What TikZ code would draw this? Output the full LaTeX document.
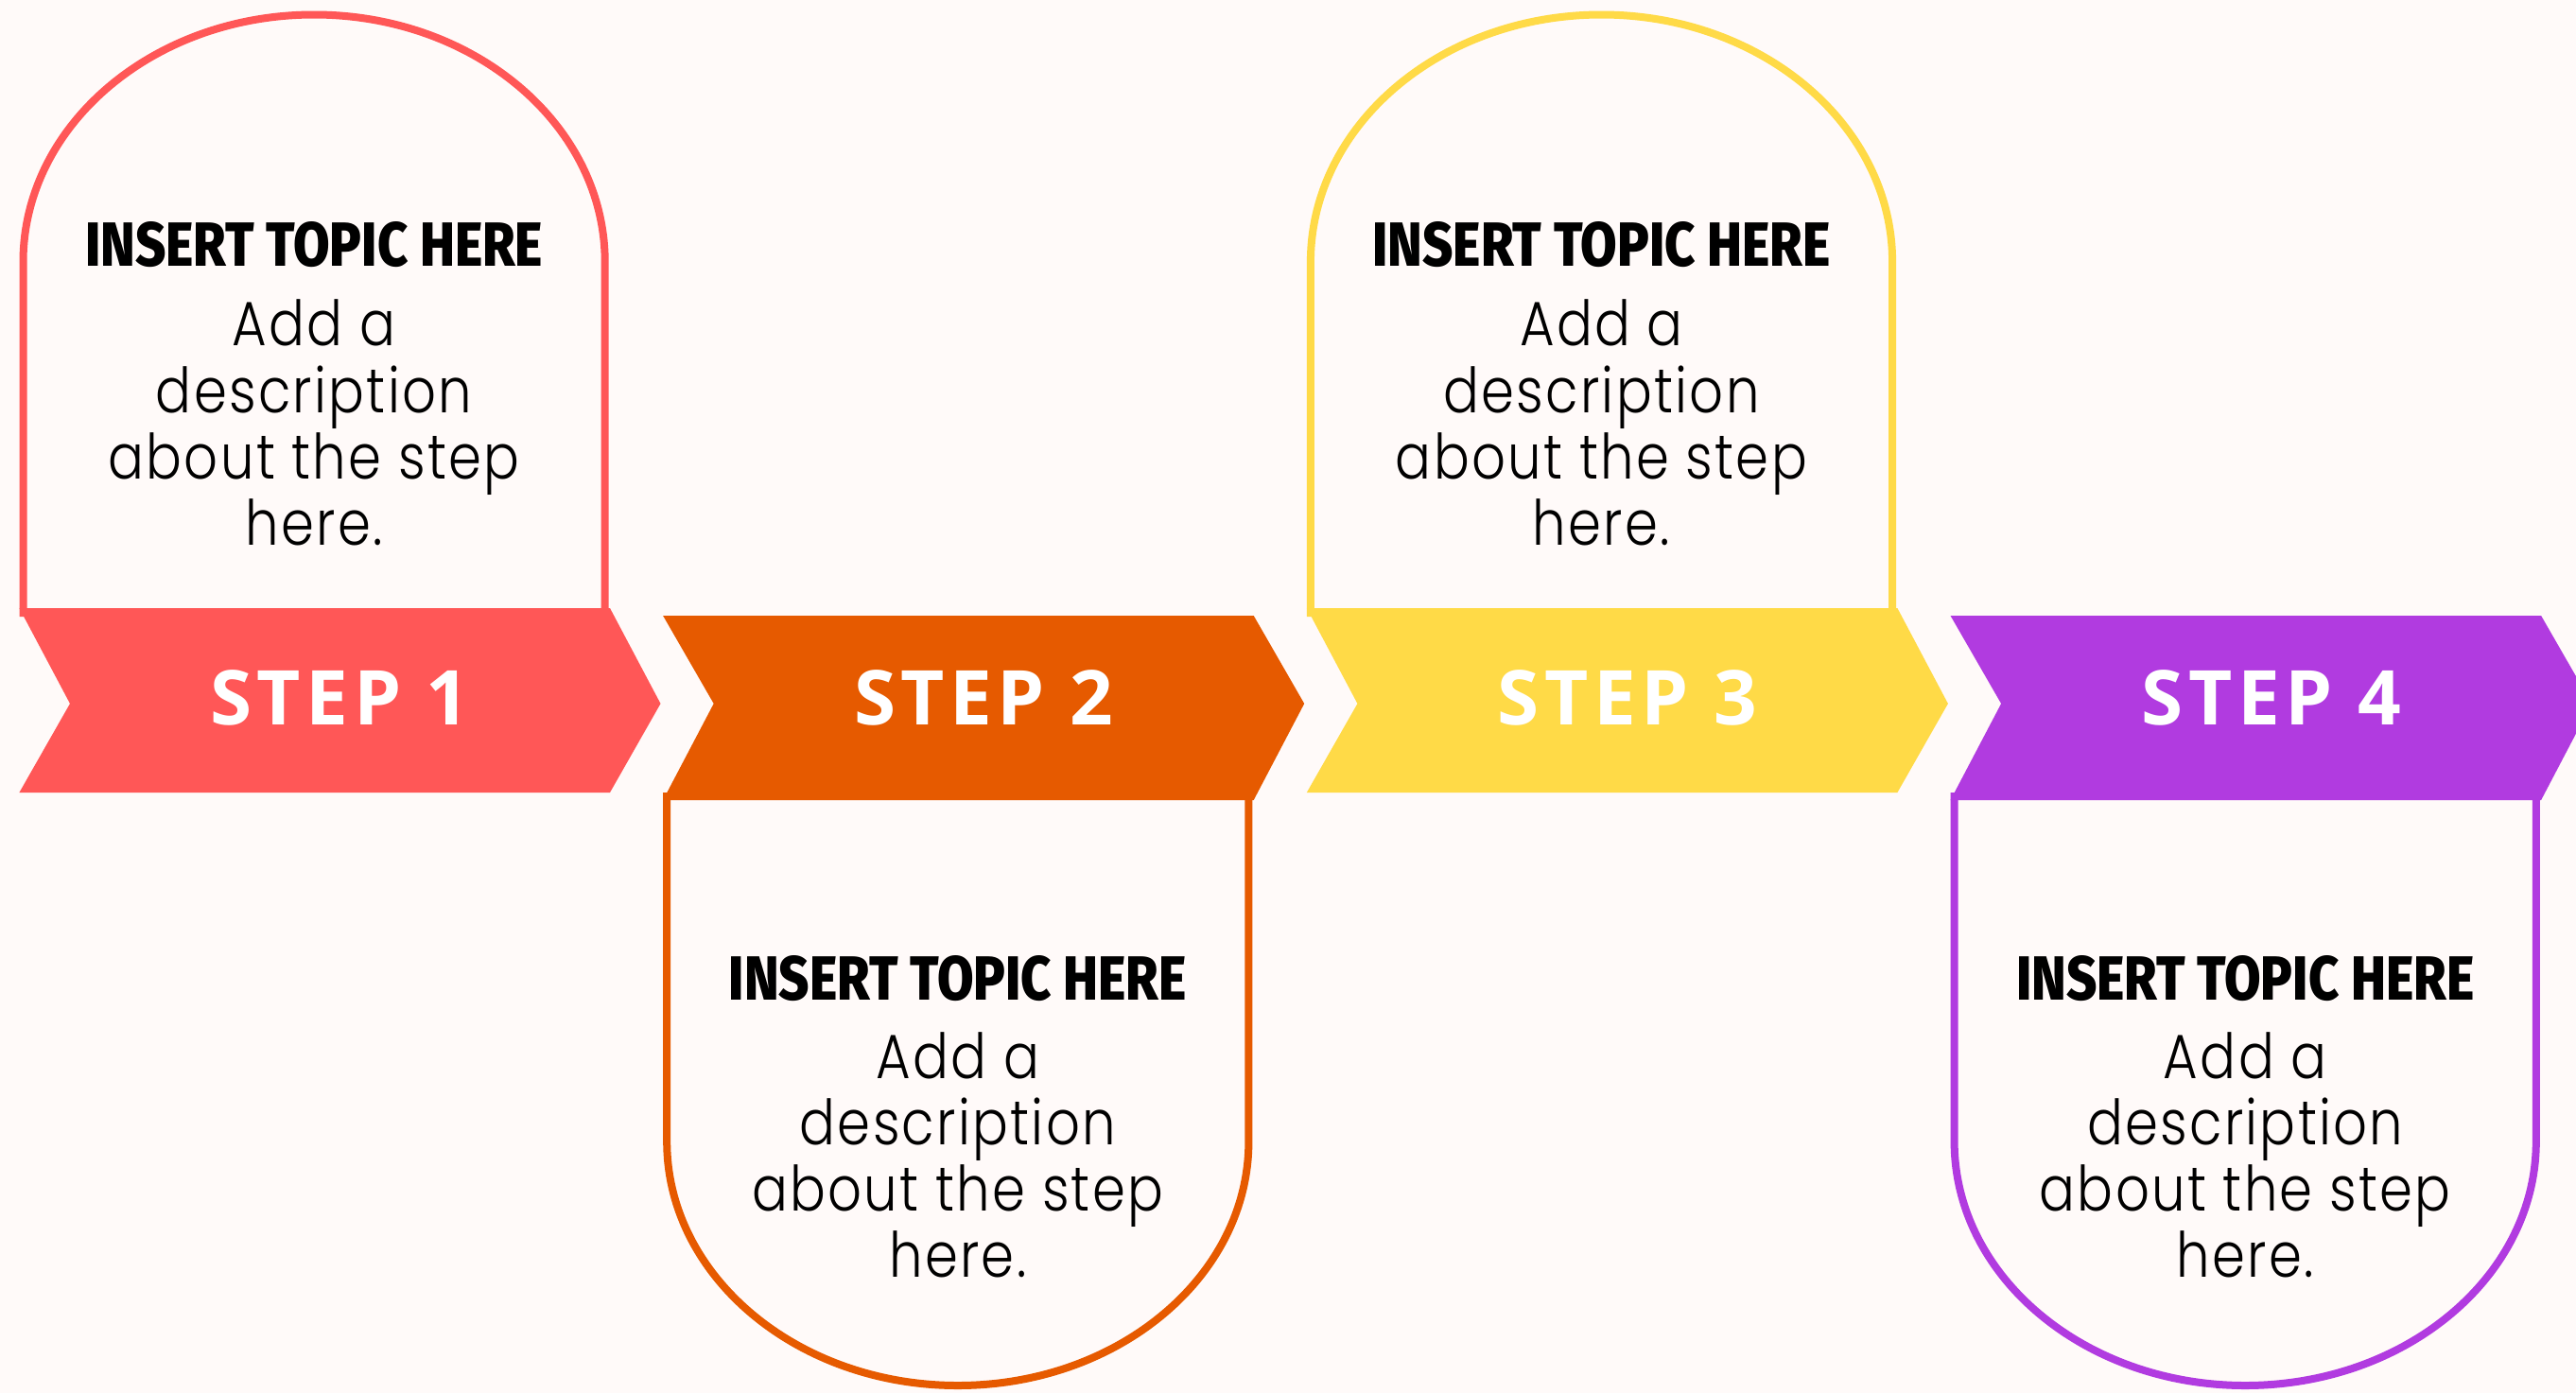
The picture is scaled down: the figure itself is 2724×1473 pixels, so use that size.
\documentclass[tikz,border=0pt]{standalone}
\usepackage{fontspec}
\usepackage{graphicx}
\setmainfont{Poppins}
\IfFontExistsTF{Poppins Light}{\newfontfamily\descfont{Poppins Light}[LetterSpace=3.5,FakeStretch=0.85]}{\newfontfamily\descfont{Poppins}[LetterSpace=3.5,FakeStretch=0.85]}
\IfFontExistsTF{Fira Sans ExtraBold}{\newfontfamily\headfont{Fira Sans ExtraBold}}{\newfontfamily\headfont{Fira Sans Bold}}
\newfontfamily\stepfont{Open Sans}[LetterSpace=7]
\definecolor{bg}{HTML}{FFFAF9}
\definecolor{cRed}{HTML}{FF5757}
\definecolor{cOrange}{HTML}{E65A00}
\definecolor{cYellow}{HTML}{FFDA47}
\definecolor{cPurple}{HTML}{B13BE0}
\tikzset{
  boxline/.style={line width=8pt},
  headtext/.style={anchor=base, inner sep=0pt, text=black},
  desctext/.style={anchor=base, inner sep=0pt, text=black, font=\descfont\fontsize{66}{70}\selectfont},
  steptext/.style={anchor=base, inner sep=0pt, text=white, font=\stepfont\bfseries\fontsize{80}{90}\selectfont},
}
\newcommand\desclines{\begin{tabular}[t]{@{}c@{}}Add a\\description\\about the step\\here.\end{tabular}}
\newcommand\headline{\resizebox{484pt}{47pt}{\headfont INSERT TOPIC HERE}}
\newcommand\topstep[3]{%
\begin{scope}[xshift=#1pt]
\draw[boxline, draw=#2] (24.5,652) -- (24.5,277) .. controls (24.5,132.6) and (162.2,15.5) .. (332.1,15.5) .. controls (502,15.5) and (639.7,132.6) .. (639.7,277) -- (639.7,652);
\fill[#2] (20.4,643) -- (645,643) -- (698.5,744) -- (645,838) -- (20.4,838) -- (74,744) -- cycle;
\node[steptext] (step#3) at (359.5,766.7) {STEP #3};
\node[headtext] (topic#3) at (332.1,281.7) {\headline};
\node[desctext] (desc#3) at (332.1,365.7) {\desclines};
\end{scope}}
\newcommand\botstep[3]{%
\begin{scope}[xshift=#1pt]
\draw[boxline, draw=#2] (24.5,838) -- (24.5,1207) .. controls (24.5,1349.5) and (162.2,1465) .. (332.1,1465) .. controls (502,1465) and (639.7,1349.5) .. (639.7,1207) -- (639.7,838);
\fill[#2] (20.4,651) -- (645,651) -- (698.5,744) -- (645,846) -- (20.4,846) -- (74,744) -- cycle;
\node[steptext] (step#3) at (359.5,766.7) {STEP #3};
\node[headtext] (topic#3) at (332.1,1057.3) {\headline};
\node[desctext] (desc#3) at (332.1,1140) {\desclines};
\end{scope}}
\begin{document}
\begin{tikzpicture}[x=1pt,y=-1pt]
\useasboundingbox (0,0) rectangle (2724,1473);
\fill[bg] (0,0) rectangle (2724,1473);
\clip (0,0) rectangle (2724,1473);
\topstep{0}{cRed}{1}
\botstep{680.7}{cOrange}{2}
\topstep{1361.4}{cYellow}{3}
\botstep{2042.1}{cPurple}{4}
\end{tikzpicture}
\end{document}
